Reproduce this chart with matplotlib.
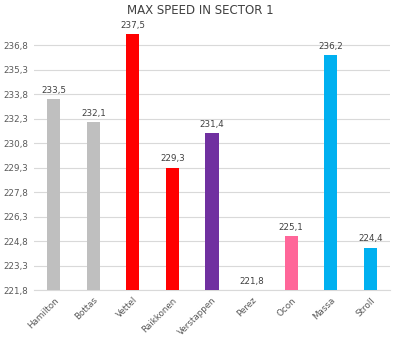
import numpy as np
import matplotlib
matplotlib.use("Agg")
import matplotlib.pyplot as plt

drivers = ["Hamilton", "Bottas", "Vettel", "Raikkonen", "Verstappen",
           "Perez", "Ocon", "Massa", "Stroll"]
speeds = [233.5, 232.1, 237.5, 229.3, 231.4, 221.8, 225.1, 236.2, 224.4]
colors = ["#BFBFBF", "#BFBFBF", "#FF0000", "#FF0000", "#7030A0",
          "#7030A0", "#FF6699", "#00B0F0", "#00B0F0"]

BASE = 221.8
TOP = 237.5
yticks = np.arange(BASE, 236.9, 1.5)

fig = plt.figure(figsize=(4.0, 3.4), dpi=100)
ax = fig.add_axes([0.085, 0.147, 0.89, 0.754])

x = np.arange(len(drivers))
heights = [s - BASE for s in speeds]
ax.bar(x, heights, bottom=BASE, width=0.33, color=colors, zorder=3, clip_on=False)

for xi, s in zip(x, speeds):
    ax.text(xi, s + 0.25, f"{s:.1f}".replace(".", ","), ha="center", va="bottom",
            fontsize=6.3, color="#404040", zorder=4)

ax.set_xlim(-0.5, len(drivers) - 0.5)
ax.set_ylim(BASE, TOP)
ax.set_yticks(yticks)
ax.set_yticklabels([f"{t:.1f}".replace(".", ",") for t in yticks])
ax.set_xticks(x)
ax.set_xticklabels(drivers, rotation=45, ha="right", rotation_mode="anchor")
ax.tick_params(axis="both", length=0, labelsize=6.3, labelcolor="#595959", pad=4)

ax.grid(axis="y", color="#D9D9D9", linewidth=0.8, zorder=0)
for side in ["top", "right", "left"]:
    ax.spines[side].set_visible(False)
ax.spines["bottom"].set_color("#D9D9D9")

fig.text(0.5, 0.968, "MAX SPEED IN SECTOR 1", ha="center", va="center",
         fontsize=8.5, color="#404040")

fig.savefig("out.png", dpi=100)
